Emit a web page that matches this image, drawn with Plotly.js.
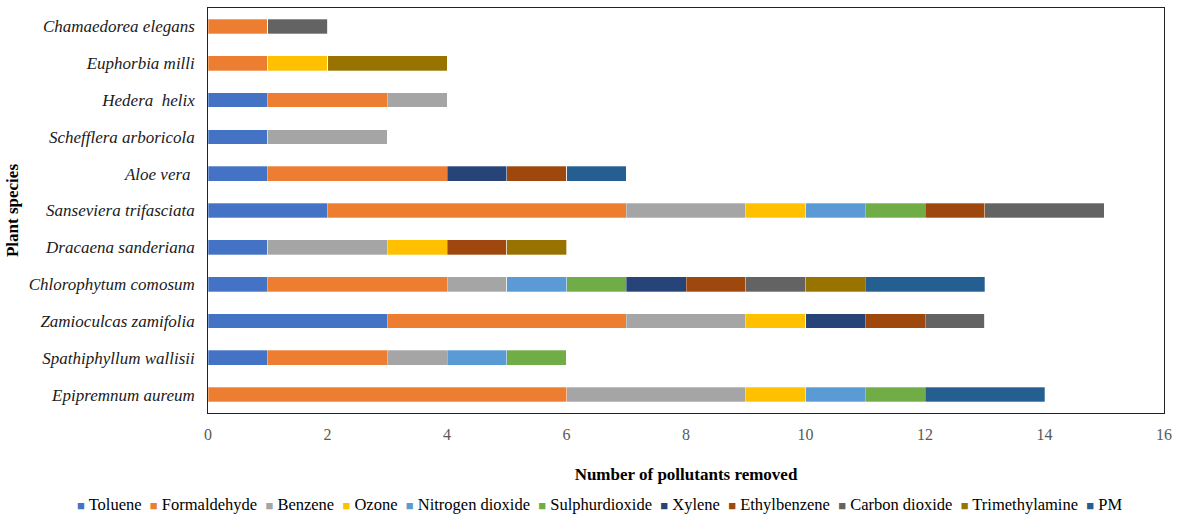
<!DOCTYPE html>
<html><head><meta charset="utf-8">
<script src="https://cdn.plot.ly/plotly-3.0.1.min.js"></script>
<style>body{margin:0;background:#fff}#chart{width:1181px;height:515px}</style>
</head><body><div id="chart"></div>
<script>
const species = ["Epipremnum aureum","Spathiphyllum wallisii","Zamioculcas zamifolia","Chlorophytum comosum","Dracaena sanderiana","Sanseviera trifasciata","Aloe vera ","Schefflera arboricola","Hedera  helix","Euphorbia milli","Chamaedorea elegans"];
const pollutants = ["Toluene","Formaldehyde","Benzene","Ozone","Nitrogen dioxide","Sulphurdioxide","Xylene","Ethylbenzene","Carbon dioxide","Trimethylamine","PM"];
const colors = ["#4472C4","#ED7D31","#A5A5A5","#FFC000","#5B9BD5","#70AD47","#264478","#9E480E","#636363","#997300","#255E91"];
// values per pollutant, ordered as species array
const toluene        = [0,1,3,1,1,2,1,1,1,0,0];
const formaldehyde   = [6,2,4,3,0,5,3,0,2,1,1];
const benzene        = [3,1,2,1,2,2,0,2,1,0,0];
const ozone          = [1,0,1,0,1,1,0,0,0,1,0];
const nitrogenDioxide= [1,1,0,1,0,1,0,0,0,0,0];
const sulphurDioxide = [1,1,0,1,0,1,0,0,0,0,0];
const xylene         = [0,0,1,1,0,0,1,0,0,0,0];
const ethylbenzene   = [0,0,1,1,1,1,1,0,0,0,0];
const carbonDioxide  = [0,0,1,1,0,2,0,0,0,0,1];
const trimethylamine = [0,0,0,1,1,0,0,0,0,2,0];
const pm             = [2,0,0,2,0,0,1,0,0,0,0];
const series = [toluene,formaldehyde,benzene,ozone,nitrogenDioxide,sulphurDioxide,xylene,ethylbenzene,carbonDioxide,trimethylamine,pm];

const font = 'Liberation Serif';
const traces = pollutants.map((p,i)=>({
  type:'bar', orientation:'h', name:p, y:species, x:series[i],
  marker:{color:colors[i], line:{color:'rgba(255,255,255,0.6)', width:0.5}},
  hoverinfo:'x+name'
}));
const legendText = pollutants.map((p,i)=>
  '<span style="color:'+colors[i]+';font-size:13px">■</span> ' + p).join('  ');
const layout = {
  barmode:'stack', bargap:0.6,
  width:1181, height:515,
  margin:{l:208,r:17,t:8,b:102},
  paper_bgcolor:'#fff', plot_bgcolor:'#fff',
  font:{family:font, color:'#000'},
  showlegend:false,
  xaxis:{range:[0,16], dtick:2, tick0:0, showgrid:false, zeroline:false,
    showline:true, mirror:true, linecolor:'#222', linewidth:1.3,
    ticks:'', ticklabelstandoff:6, tickfont:{family:font,size:16,color:'#595959'},
    title:{text:'<b>Number of pollutants removed</b>', font:{family:font,size:17,color:'#000'}, standoff:26}},
  yaxis:{type:'category', showgrid:false, zeroline:false,
    showline:true, mirror:true, linecolor:'#222', linewidth:1.3,
    ticks:'', ticksuffix:'  ',
    tickfont:{family:font,size:17,color:'#1a1a1a', style:'italic'},
    title:{text:'<b>Plant species</b>', font:{family:font,size:17,color:'#000'}, standoff:5}},
  annotations:[{text:legendText, xref:'paper', yref:'paper', x:0.41, y:-0.227, xanchor:'center', yanchor:'middle',
    showarrow:false, font:{family:font,size:16.5,color:'#000'}}]
};
Plotly.newPlot('chart', traces, layout, {displayModeBar:false, staticPlot:true});
</script></body></html>
